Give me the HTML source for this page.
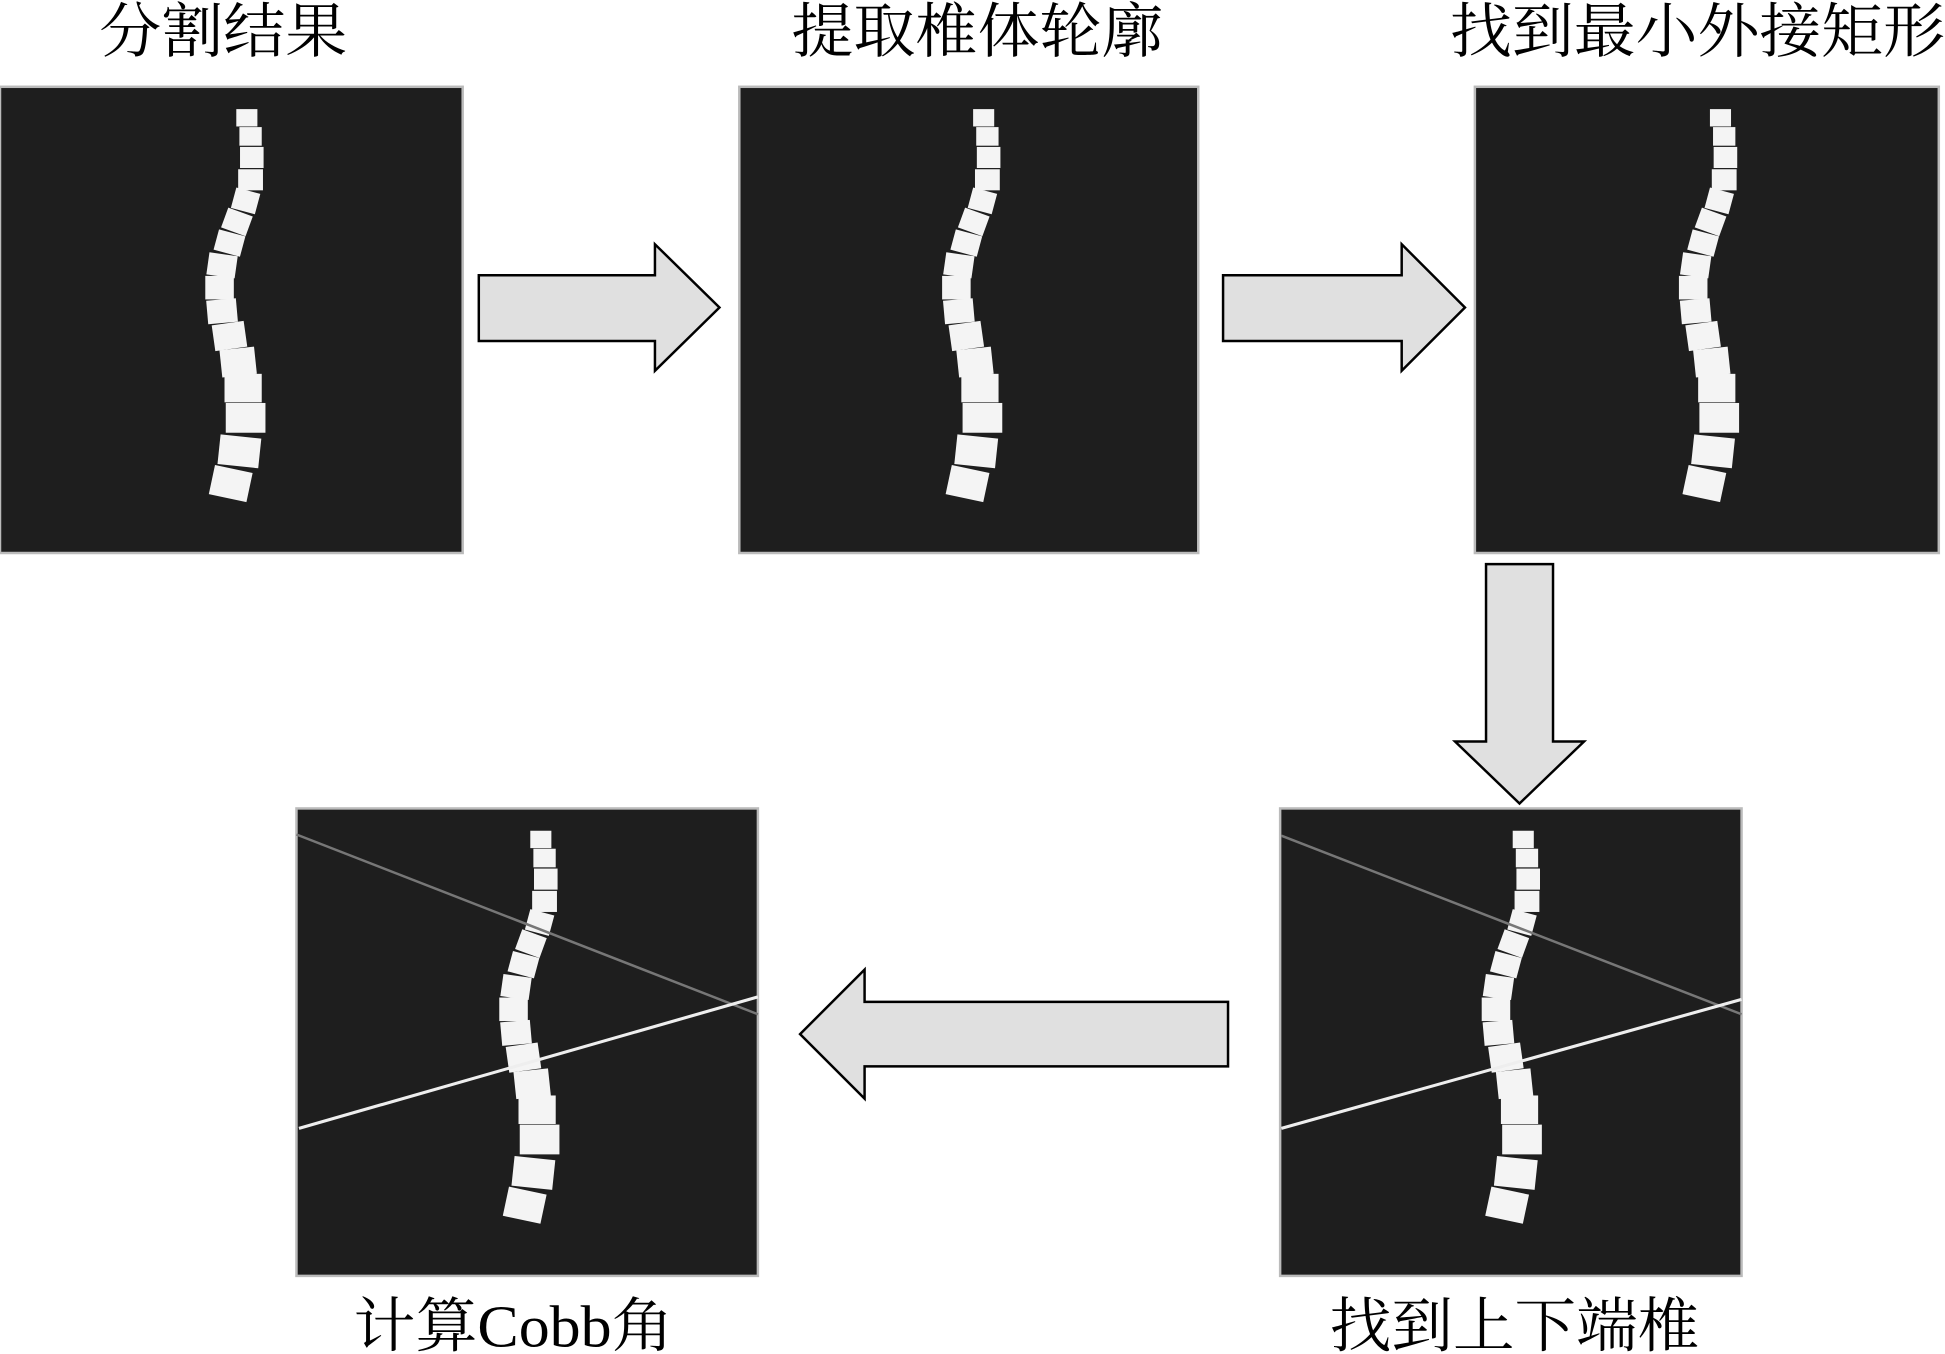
<!DOCTYPE html>
<html><head><meta charset="utf-8"><style>
html,body{margin:0;padding:0;background:#fff;}
svg{display:block;}
text{font-family:"Liberation Serif","Noto Serif CJK SC",serif;fill:#000;}
</style></head><body>
<svg width="1945" height="1354" viewBox="0 0 1568 1092" preserveAspectRatio="none" xmlns="http://www.w3.org/2000/svg">
<defs>
<g id="spine" fill="#f4f4f4">
<rect x="-8.5" y="-7" width="17" height="14" transform="translate(199,95)"/>
<rect x="-9" y="-7.5" width="18" height="15" transform="translate(202,110)"/>
<rect x="-9.5" y="-8.5" width="19" height="17" transform="translate(203,127)"/>
<rect x="-10" y="-8.5" width="20" height="17" transform="translate(202,145)"/>
<rect x="-10" y="-8.5" width="20" height="17" transform="translate(198,162) rotate(15)"/>
<rect x="-10.5" y="-8.5" width="21" height="17" transform="translate(191,179) rotate(20)"/>
<rect x="-11" y="-8.5" width="22" height="17" transform="translate(185,196) rotate(15)"/>
<rect x="-11.5" y="-9" width="23" height="18" transform="translate(179,214) rotate(8)"/>
<rect x="-11.5" y="-9.5" width="23" height="19" transform="translate(177,232)"/>
<rect x="-12" y="-9.5" width="24" height="19" transform="translate(179,251) rotate(-5)"/>
<rect x="-13" y="-10.5" width="26" height="21" transform="translate(185,271) rotate(-8)"/>
<rect x="-14" y="-11" width="28" height="22" transform="translate(192,292) rotate(-6)"/>
<rect x="-15" y="-11.5" width="30" height="23" transform="translate(196,313)"/>
<rect x="-16" y="-12" width="32" height="24" transform="translate(198,337)"/>
<rect x="-16.5" y="-12" width="33" height="24" transform="translate(193,364) rotate(6)"/>
<rect x="-15.5" y="-12" width="31" height="24" transform="translate(186,390) rotate(12)"/>
</g>
</defs>

<text x="80" y="42" font-size="48" textLength="200" lengthAdjust="spacingAndGlyphs">分割结果</text>
<text x="638" y="42" font-size="48" textLength="300" lengthAdjust="spacingAndGlyphs">提取椎体轮廓</text>
<text x="1169" y="42" font-size="48" textLength="399" lengthAdjust="spacingAndGlyphs">找到最小外接矩形</text>
<text x="285" y="1086" font-size="48" textLength="258" lengthAdjust="spacingAndGlyphs">计算Cobb角</text>
<text x="1072" y="1086" font-size="48" textLength="298" lengthAdjust="spacingAndGlyphs">找到上下端椎</text>

<rect x="0" y="70" width="373" height="376" fill="#1e1e1e" stroke="#bbb" stroke-width="2"/>
<use href="#spine"/>
<rect x="596" y="70" width="370" height="376" fill="#1e1e1e" stroke="#bbb" stroke-width="2"/>
<use href="#spine" transform="translate(594,0)"/>
<rect x="1189" y="70" width="374" height="376" fill="#1e1e1e" stroke="#bbb" stroke-width="2"/>
<use href="#spine" transform="translate(1188,0)"/>

<rect x="239" y="652" width="372" height="377" fill="#1e1e1e" stroke="#bbb" stroke-width="2"/>
<use href="#spine" transform="translate(237,582)"/>
<line x1="239" y1="673" x2="611" y2="818" stroke="#777" stroke-width="2"/>
<line x1="241" y1="910" x2="611" y2="804" stroke="#eee" stroke-width="2.5"/>

<rect x="1032" y="652" width="372" height="377" fill="#1e1e1e" stroke="#bbb" stroke-width="2"/>
<use href="#spine" transform="translate(1029,582)"/>
<line x1="1033" y1="674" x2="1404" y2="818" stroke="#777" stroke-width="2"/>
<line x1="1033" y1="910" x2="1404" y2="806" stroke="#eee" stroke-width="2.5"/>

<g fill="#e0e0e0" stroke="#000" stroke-width="2" stroke-linejoin="miter">
<polygon points="386,222 528,222 528,197 580,248 528,299 528,275 386,275"/>
<polygon points="986,222 1130,222 1130,197 1181,248 1130,299 1130,275 986,275"/>
<polygon points="1198,455 1252,455 1252,598 1277,598 1225,648 1173,598 1198,598"/>
<polygon points="990,808 697,808 697,782 645,834 697,886 697,860 990,860"/>
</g>
</svg>
</body></html>
